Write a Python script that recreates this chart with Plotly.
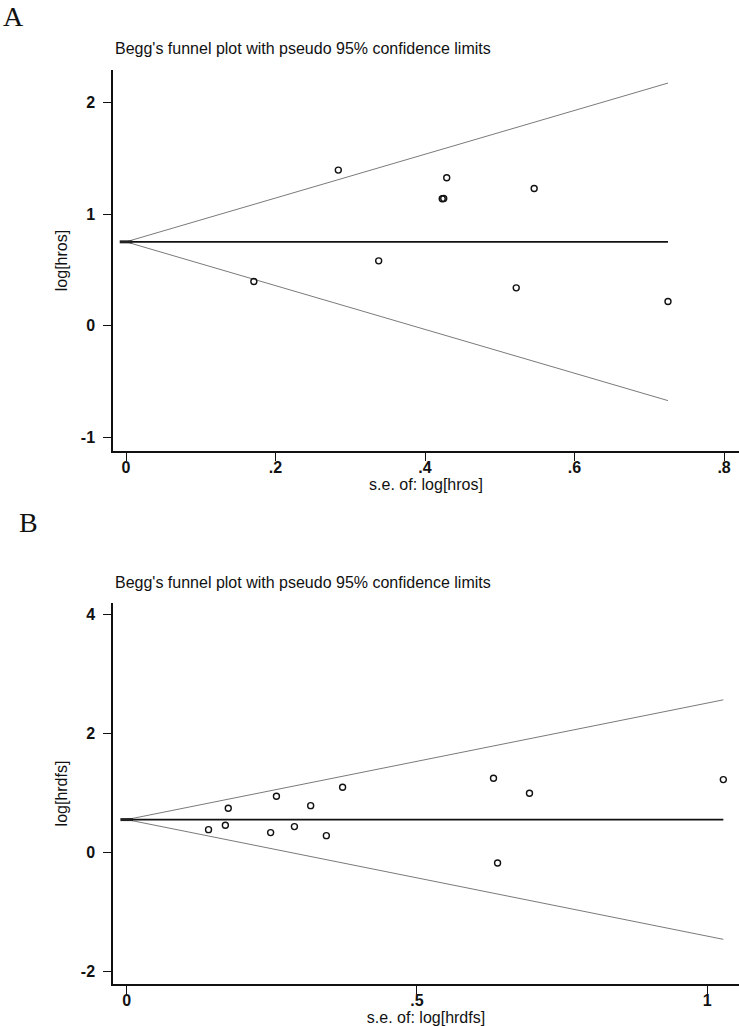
import plotly.graph_objects as go

# Panel A data
se_a = [0.171, 0.284, 0.338, 0.423, 0.425, 0.429, 0.522, 0.546, 0.725]
lhr_a = [0.397, 1.394, 0.582, 1.137, 1.140, 1.325, 0.340, 1.229, 0.218]
theta_a = 0.752

# Panel B data
se_b = [0.141, 0.170, 0.175, 0.248, 0.258, 0.289, 0.317, 0.344, 0.372, 0.632, 0.639, 0.694, 1.028]
lhr_b = [0.387, 0.460, 0.746, 0.337, 0.948, 0.438, 0.791, 0.286, 1.100, 1.251, -0.174, 0.998, 1.229]
theta_b = 0.556

xt_a = [0, 0.2, 0.4, 0.6, 0.8]
xt_a_lab = ["0", ".2", ".4", ".6", ".8"]
yt_a = [-1, 0, 1, 2]
yt_a_lab = ["-1", "0", "1", "2"]
xt_b = [0, 0.5, 1]
xt_b_lab = ["0", ".5", "1"]
yt_b = [-2, 0, 2, 4]
yt_b_lab = ["-2", "0", "2", "4"]

W, H = 739, 1026
FONT = "Liberation Sans, Arial, sans-serif"
TXT = "#111111"

fig = go.Figure()


def add_panel(se, lhr, theta, xa, ya):
    xmax = max(se)
    xs = [0, xmax]
    fig.add_trace(go.Scatter(x=xs, y=[theta + 1.96 * v for v in xs], mode="lines",
                             line=dict(color="#7a7a7a", width=1), xaxis=xa, yaxis=ya,
                             showlegend=False, hoverinfo="skip"))
    fig.add_trace(go.Scatter(x=xs, y=[theta - 1.96 * v for v in xs], mode="lines",
                             line=dict(color="#7a7a7a", width=1), xaxis=xa, yaxis=ya,
                             showlegend=False, hoverinfo="skip"))
    fig.add_trace(go.Scatter(x=xs, y=[theta, theta], mode="lines",
                             line=dict(color="#111111", width=1.6), xaxis=xa, yaxis=ya,
                             showlegend=False, hoverinfo="skip"))
    fig.add_trace(go.Scatter(x=[0], y=[theta], mode="markers",
                             marker=dict(symbol="line-ew", size=9, line=dict(color="#222", width=3)),
                             xaxis=xa, yaxis=ya, showlegend=False, hoverinfo="skip"))
    fig.add_trace(go.Scatter(x=se, y=lhr, mode="markers",
                             marker=dict(symbol="circle-open", size=6, color="#111111",
                                         line=dict(width=1.4)),
                             xaxis=xa, yaxis=ya, showlegend=False))


add_panel(se_a, lhr_a, theta_a, "x", "y")
add_panel(se_b, lhr_b, theta_b, "x2", "y2")

x0 = 113 / W


def py(pix):
    return 1 - pix / H


axis_common = dict(showgrid=False, zeroline=False, showline=True, linecolor="#111111",
                   linewidth=1.5, ticks="outside", ticklen=8, tickwidth=1.2,
                   tickcolor="#111111",
                   tickfont=dict(family=FONT, size=16, color=TXT, weight="bold"))
title_font = dict(family=FONT, size=16, color=TXT)

fig.update_layout(
    width=W, height=H, margin=dict(l=0, r=0, t=0, b=0),
    plot_bgcolor="white", paper_bgcolor="white",
    xaxis=dict(domain=[x0, 1], range=[-0.0174, 0.82], tickvals=xt_a, ticktext=xt_a_lab,
               anchor="y", ticklabelstandoff=-7,
               title=dict(text="s.e. of: log[hros]", standoff=2, font=title_font),
               **axis_common),
    yaxis=dict(domain=[py(451), py(70)], range=[-1.12, 2.29], tickvals=yt_a,
               ticktext=yt_a_lab, anchor="x", ticklabelstandoff=5,
               title=dict(text="log[hros]", standoff=9, font=title_font),
               **axis_common),
    xaxis2=dict(domain=[x0, 1], range=[-0.0236, 1.055], tickvals=xt_b, ticktext=xt_b_lab,
                anchor="y2", ticklabelstandoff=-7,
                title=dict(text="s.e. of: log[hrdfs]", standoff=2, font=title_font),
                **axis_common),
    yaxis2=dict(domain=[py(984), py(603)], range=[-2.21, 4.20], tickvals=yt_b,
                ticktext=yt_b_lab, anchor="x2", ticklabelstandoff=5,
                title=dict(text="log[hrdfs]", standoff=9, font=title_font),
                **axis_common),
)

title_txt = "Begg's funnel plot with pseudo 95% confidence limits"
for ytop in [48, 582]:
    fig.add_annotation(text=title_txt, xref="paper", yref="paper", x=x0, y=py(ytop),
                       xanchor="left", yanchor="middle", showarrow=False,
                       font=dict(family=FONT, size=16, color=TXT))
for lab, xp, yp, ya in [("A", 13, 0, "top"), ("B", 28, 522, "middle")]:
    fig.add_annotation(text=lab, xref="paper", yref="paper", x=xp / W, y=py(yp),
                       xanchor="center", yanchor=ya, showarrow=False, borderpad=0,
                       font=dict(family="Liberation Serif, Times New Roman, serif", size=28,
                                 color="#111111"))

fig.write_html("out.html", config={"displayModeBar": False},
               post_script="document.body.style.margin='0';document.body.style.padding='0';")
